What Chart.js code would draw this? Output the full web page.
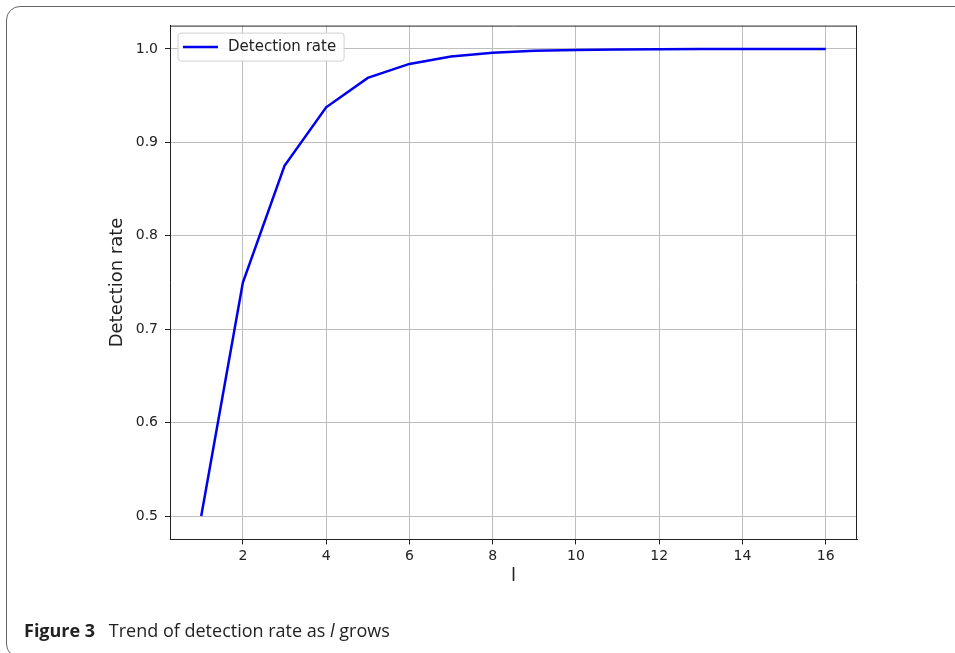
<!DOCTYPE html>
<html><head><meta charset="utf-8">
<script src="https://cdn.jsdelivr.net/npm/chart.js@4"></script>
<style>
html,body{margin:0;padding:0;background:#fff;width:955px;height:653px;overflow:hidden;}
#frame{position:absolute;left:6px;top:6px;width:1000px;height:652px;border:1px solid #666;border-radius:14px;box-sizing:border-box;}
#wrap{position:absolute;left:0;top:0;width:955px;height:653px;}
#cap{position:absolute;left:24px;top:618px;font-family:"Open Sans";font-size:18px;color:#222;white-space:nowrap;}
#cap b{margin-right:9px;}
</style></head><body>
<div id="frame"></div>
<div id="wrap"><canvas id="c" width="955" height="653"></canvas></div>
<div id="cap"><b>Figure 3</b> Trend of detection rate as <i>l</i> grows</div>
<script>
const lValues = [1, 2, 3, 4, 5, 6, 7, 8, 9, 10, 11, 12, 13, 14, 15, 16];
const detectionRate = [0.5, 0.75, 0.875, 0.9375, 0.969, 0.984, 0.992, 0.996, 0.998, 0.999, 0.9995, 0.9998, 0.9999, 0.99994, 0.99997, 0.99998];
const xTickValues = [2, 4, 6, 8, 10, 12, 14, 16];
const yTickValues = [0.5, 0.6, 0.7, 0.8, 0.9, 1.0];
const seriesLabel = 'Detection rate';
const xTitle = 'l';
const yTitle = 'Detection rate';

const INK = '#222';
const GRID = '#bdbdbd';

const spines = {
  id: 'spines',
  afterDatasetsDraw(chart) {
    const {ctx, chartArea: a} = chart;
    ctx.save();
    ctx.strokeStyle = INK;
    ctx.lineWidth = 1;
    ctx.beginPath();
    ctx.moveTo(a.left, a.top + 0.5);
    ctx.lineTo(a.right, a.top + 0.5);
    ctx.moveTo(a.right - 0.5, a.top);
    ctx.lineTo(a.right - 0.5, a.bottom);
    ctx.stroke();
    ctx.restore();
  }
};

const legendBox = {
  id: 'legendBox',
  afterDatasetsDraw(chart) {
    const {ctx, chartArea: a} = chart;
    const ds = chart.data.datasets[0];
    ctx.save();
    ctx.font = '15px "DejaVu Sans"';
    const tw = ctx.measureText(ds.label).width;
    const x = a.left + 8, y = a.top + 7.5, h = 28, w = 50 + tw + 8;
    ctx.beginPath();
    if (ctx.roundRect) ctx.roundRect(x, y, w, h, 3); else ctx.rect(x, y, w, h);
    ctx.fillStyle = 'rgba(255,255,255,0.85)';
    ctx.fill();
    ctx.strokeStyle = '#d0d0d0';
    ctx.lineWidth = 1;
    ctx.stroke();
    ctx.beginPath();
    ctx.strokeStyle = ds.borderColor;
    ctx.lineWidth = ds.borderWidth;
    ctx.moveTo(x + 5, y + h / 2);
    ctx.lineTo(x + 40, y + h / 2);
    ctx.stroke();
    ctx.fillStyle = INK;
    ctx.textBaseline = 'middle';
    ctx.fillText(ds.label, x + 50, y + h / 2 + 0.5);
    ctx.restore();
  }
};

new Chart(document.getElementById('c'), {
  type: 'line',
  data: {
    datasets: [{
      label: seriesLabel,
      data: lValues.map((l, i) => ({x: l, y: detectionRate[i]})),
      borderColor: '#0000ee',
      borderWidth: 2.5,
      pointRadius: 0,
      tension: 0,
      fill: false
    }]
  },
  options: {
    responsive: false,
    devicePixelRatio: 1,
    animation: false,
    layout: {padding: {left: 100, top: 25.6, right: 98, bottom: 60}},
    plugins: {legend: {display: false}, tooltip: {enabled: false}},
    scales: {
      x: {
        type: 'linear',
        min: 0.25, max: 16.75,
        afterBuildTicks: s => { s.ticks = xTickValues.map(v => ({value: v})); },
        afterFit: s => { s.height = 53.6; },
        grid: {color: GRID, lineWidth: 1, tickColor: INK, tickLength: 5},
        border: {color: INK, width: 1},
        ticks: {color: INK, font: {family: 'DejaVu Sans', size: 14}, padding: 4, maxRotation: 0},
        title: {display: true, text: xTitle, color: INK, font: {family: 'DejaVu Sans', size: 18}, padding: {top: 0, bottom: 6}}
      },
      y: {
        type: 'linear',
        min: 0.475, max: 1.025,
        afterBuildTicks: s => { s.ticks = yTickValues.map(v => ({value: v})); },
        afterFit: s => { s.width = 70; },
        grid: {color: GRID, lineWidth: 1, tickColor: INK, tickLength: 5},
        border: {color: INK, width: 1},
        ticks: {color: INK, font: {family: 'DejaVu Sans', size: 14}, padding: 7, callback: v => v.toFixed(1)},
        title: {display: true, text: yTitle, color: INK, font: {family: 'DejaVu Sans', size: 18}, padding: {top: 7, bottom: 0}}
      }
    }
  },
  plugins: [spines, legendBox]
});
</script>
</body></html>
